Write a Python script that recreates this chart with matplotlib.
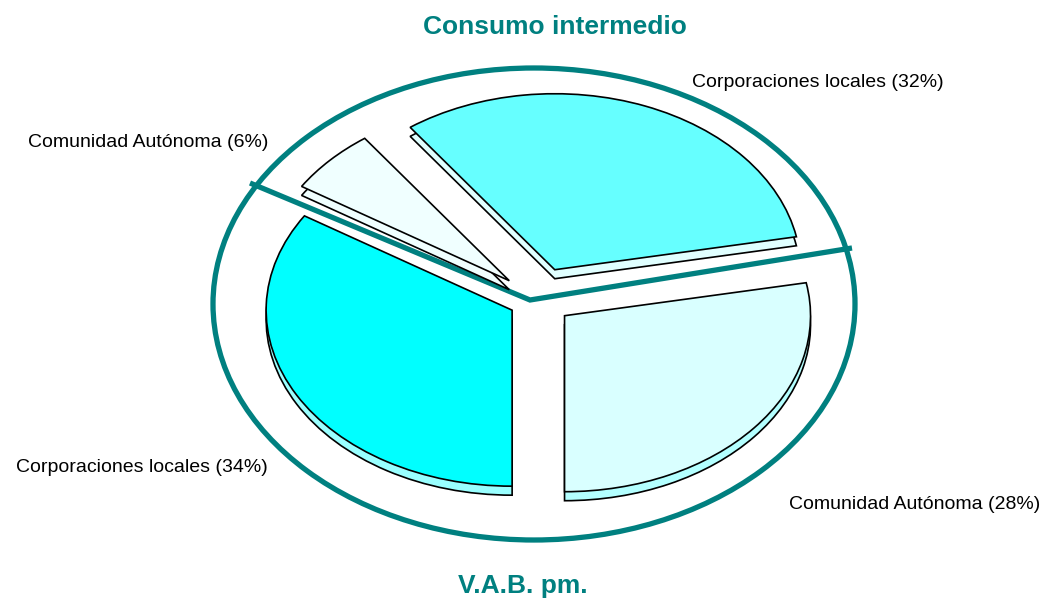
import matplotlib
matplotlib.use("Agg")
import matplotlib.pyplot as plt
from matplotlib.patches import Ellipse

plt.rcParams["font.family"] = ["Liberation Sans", "DejaVu Sans"]

# data (counterclockwise from the bottom of the pie)
labels = ["Comunidad Autónoma (28%)", "Corporaciones locales (32%)",
          "Comunidad Autónoma (6%)", "Corporaciones locales (34%)"]
shares = [28, 32, 6, 34]
explode = [0.14, 0.185, 0.16, 0.12]
top_colors = ["#D9FFFF", "#66FFFF", "#F0FFFF", "#00FFFF"]
side_colors = ["#B3FFFF", "#E0FFFF", "#F0FFFF", "#99FFFF"]

title_top = "Consumo intermedio"
title_bottom = "V.A.B. pm."
TEAL = "#008080"

W, H = 1044, 599
fig = plt.figure(figsize=(W / 100, H / 100), dpi=100)

# back layer in pixel coords: ring, divider, texts
bg = fig.add_axes([0, 0, 1, 1])
bg.set_xlim(0, W)
bg.set_ylim(H, 0)
bg.axis("off")
bg.add_patch(Ellipse((534, 304), 642, 472, fill=False, ec=TEAL, lw=3.8))
bg.plot([250, 530, 852], [183, 300, 248], color=TEAL, lw=3.8,
        solid_joinstyle="miter", solid_capstyle="butt")

# label anchors (x, baseline y, alignment)
label_pos = [(789, 509, "left"), (692, 87, "left"),
             (268, 147, "right"), (268, 472, "right")]
for txt, (x, y, ha) in zip(labels, label_pos):
    bg.text(x, y, txt, ha=ha, va="baseline", fontsize=14.0, color="black")

bg.text(555, 34, title_top, ha="center", va="baseline", fontsize=19,
        fontweight="bold", color=TEAL)
bg.text(523, 593, title_bottom, ha="center", va="baseline", fontsize=19,
        fontweight="bold", color=TEAL)

# pie layer, squashed into an ellipse by the axis limits
ax = fig.add_axes([0, 0, 1, 1])
ax.patch.set_alpha(0)
cx, cy, rx, ry = 538, 300, 246, 176
depth = 9 / ry
edge = dict(edgecolor="black", linewidth=1.2)

ax.pie(shares, colors=side_colors, explode=explode, startangle=270,
       counterclock=True, center=(0, -depth), wedgeprops=edge)
ax.pie(shares, colors=top_colors, explode=explode, startangle=270,
       counterclock=True, center=(0, 0), wedgeprops=edge)

ax.set_aspect("auto")
ax.set_xlim(-cx / rx, (W - cx) / rx)
ax.set_ylim((cy - H) / ry, cy / ry)
ax.axis("off")

fig.savefig("out.png", dpi=100)
